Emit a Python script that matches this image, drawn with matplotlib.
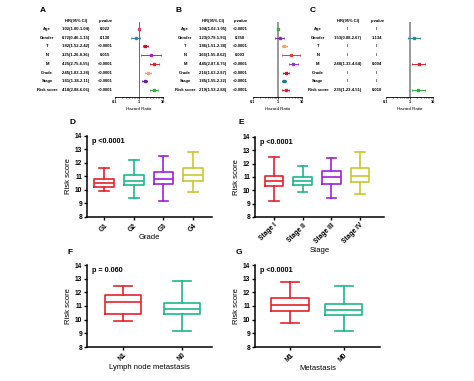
import numpy as np
import matplotlib
matplotlib.use('Agg')
import matplotlib.pyplot as plt
import matplotlib.transforms as mtrans

plt.rcParams['font.family'] = ['Liberation Sans', 'DejaVu Sans']
plt.rcParams['font.weight'] = 'bold'

# forest plot data
rows = ['Age', 'Gender', 'T', 'N', 'M', 'Grade', 'Stage', 'Risk score']

a_hr = [1.02, 0.72, 1.82, 3.25, 4.25, 2.45, 1.81, 4.18]
a_lo = [1.00, 0.46, 1.52, 1.26, 2.75, 1.83, 1.38, 2.88]
a_hi = [1.04, 1.15, 2.42, 8.36, 6.55, 3.28, 2.11, 6.06]
a_txt = ['1.02(1.00-1.04)', '0.72(0.46-1.15)', '1.82(1.52-2.42)', '3.25(1.26-8.36)',
         '4.25(2.75-6.55)', '2.45(1.83-3.28)', '1.81(1.38-2.11)', '4.18(2.88-6.06)']
a_p = ['0.022', '0.130', '<0.0001', '0.015', '<0.0001', '<0.0001', '<0.0001', '<0.0001']
a_col = ['#e0405a', '#3a7fbf', '#c0102a', '#b020d0', '#e02030', '#f0a070', '#6020a0', '#30b040']

b_hr = [1.04, 1.23, 1.86, 3.66, 4.45, 2.16, 1.85, 2.19]
b_lo = [1.02, 0.79, 1.51, 1.55, 2.87, 1.63, 1.55, 1.53]
b_hi = [1.05, 1.93, 2.38, 8.62, 6.75, 2.87, 2.22, 2.88]
b_txt = ['1.04(1.02-1.05)', '1.23(0.79-1.93)', '1.86(1.51-2.38)', '3.66(1.55-8.62)',
         '4.45(2.87-6.75)', '2.16(1.63-2.87)', '1.85(1.55-2.22)', '2.19(1.53-2.88)']
b_p = ['<0.0001', '0.358', '<0.0001', '0.003', '<0.0001', '<0.0001', '<0.0001', '<0.0001']
b_col = ['#30b040', '#8030c0', '#f0a060', '#e04040', '#9030e0', '#d01030', '#108080', '#e02030']

c_hr = [np.nan, 1.53, np.nan, np.nan, 2.48, np.nan, np.nan, 2.35]
c_lo = [np.nan, 0.88, np.nan, np.nan, 1.33, np.nan, np.nan, 1.23]
c_hi = [np.nan, 2.67, np.nan, np.nan, 4.64, np.nan, np.nan, 4.51]
c_txt = ['/', '1.53(0.88-2.67)', '/', '/', '2.48(1.33-4.64)', '/', '/', '2.35(1.23-4.51)']
c_p = ['/', '1.134', '/', '/', '0.004', '/', '/', '0.010']
c_col = ['k', '#2a8a9a', 'k', 'k', '#e02030', 'k', 'k', '#30b040']

# box plot data: whisker low, q1, median, q3, whisker high
grade_names = ['G1', 'G2', 'G3', 'G4']
grade_stats = [[9.9, 10.2, 10.5, 10.85, 11.6],
               [9.4, 10.35, 10.65, 11.1, 12.2],
               [9.2, 10.45, 10.85, 11.35, 12.5],
               [9.85, 10.65, 11.1, 11.65, 12.8]]
stage_names = ['Stage I', 'Stage II', 'Stage III', 'Stage IV']
stage_stats = [[9.2, 10.35, 10.7, 11.1, 12.5],
               [9.9, 10.4, 10.7, 11.0, 11.8],
               [9.4, 10.45, 11.0, 11.45, 12.45],
               [9.75, 10.6, 11.1, 11.7, 12.85]]
lymph_names = ['N1', 'N0']
lymph_stats = [[9.9, 10.45, 11.3, 11.8, 12.45],
               [9.2, 10.4, 10.75, 11.25, 12.8]]
meta_names = ['M1', 'M0']
meta_stats = [[9.75, 10.65, 11.05, 11.6, 12.75],
              [9.2, 10.35, 10.7, 11.15, 12.45]]

box_cols = ['#e8202a', '#1fb58a', '#a11fdc', '#c8c832']

W, H = 474, 381
fig = plt.figure(figsize=(W / 100, H / 100), dpi=100)


def px_axes(x0, y0, x1, y1):
    return fig.add_axes([x0 / W, 1 - y1 / H, (x1 - x0) / W, (y1 - y0) / H])


def forest(x0, x1, xlab, xhr, xp, hr, lo, hi, txt, pv, cols, vcol, vlw):
    ax = px_axes(x0, 22, x1, 97)
    ax.set_xscale('log')
    ax.set_xlim(0.1, 10)
    ax.set_ylim(7.8, -0.8)
    ax.axvline(1, color=vcol, lw=vlw, zorder=1)
    for i in range(len(rows)):
        if np.isnan(hr[i]):
            continue
        ax.errorbar(hr[i], i, xerr=[[hr[i] - lo[i]], [hi[i] - hr[i]]], fmt='s',
                    color=cols[i], ms=1.5, lw=0.7, capsize=1, capthick=0.6)
    for s in ['left', 'top', 'right']:
        ax.spines[s].set_visible(False)
    ax.spines['bottom'].set_linewidth(0.6)
    ax.set_yticks([])
    ax.set_xticks([0.1, 1, 10])
    ax.set_xticklabels(['0.1', '1', '10'], fontsize=2.8)
    ax.tick_params(axis='x', which='major', length=1.5, width=0.5, pad=1)
    ax.tick_params(axis='x', which='minor', length=1, width=0.4)
    ax.set_xlabel('Hazard Ratio', fontsize=3.2, labelpad=2)
    tr = mtrans.blended_transform_factory(fig.transFigure, ax.transData)
    ax.text(xhr / W, -0.9, 'HR(95% CI)', transform=tr, fontsize=3, ha='center', va='center')
    ax.text(xp / W, -0.9, 'p value', transform=tr, fontsize=3, ha='center', va='center', style='italic')
    for i, r in enumerate(rows):
        ax.text(xlab / W, i, r, transform=tr, fontsize=3, ha='center', va='center')
        ax.text(xhr / W, i, txt[i], transform=tr, fontsize=3, ha='center', va='center')
        ax.text(xp / W, i, pv[i], transform=tr, fontsize=3, ha='center', va='center')
    return ax


forest(115, 163, 47, 76, 105, a_hr, a_lo, a_hi, a_txt, a_p, a_col, '#555555', 0.6)
forest(253, 302, 185, 213, 240, b_hr, b_lo, b_hi, b_txt, b_p, b_col, '#888888', 1.2)
forest(386, 433, 318, 348, 377, c_hr, c_lo, c_hi, c_txt, c_p, c_col, '#888888', 1.2)


def boxpanel(x0, y0, x1, y1, names, stats, xlim, width, ptxt, xlabel):
    ax = px_axes(x0, y0, x1, y1)
    bs = []
    for n, s in zip(names, stats):
        bs.append({'label': n, 'whislo': s[0], 'q1': s[1], 'med': s[2], 'q3': s[3], 'whishi': s[4]})
    pos = np.arange(1, len(names) + 1)
    parts = ax.bxp(bs, positions=pos, widths=width, showfliers=False, patch_artist=False,
                   manage_ticks=False)
    for i in range(len(names)):
        c = box_cols[i]
        parts['boxes'][i].set(color=c, lw=1.2)
        parts['medians'][i].set(color=c, lw=1.2)
        for k in (2 * i, 2 * i + 1):
            parts['whiskers'][k].set(color=c, lw=1.2)
            parts['caps'][k].set(color=c, lw=1.2)
    ax.set_xlim(*xlim)
    ax.set_ylim(8, 14)
    ax.set_yticks(range(8, 15))
    ax.set_xticks(pos)
    ax.set_xticklabels(names, rotation=45, ha='right', rotation_mode='anchor', fontsize=4.8)
    ax.tick_params(axis='y', labelsize=4.8, length=2.5, width=1, pad=1)
    ax.tick_params(axis='x', length=2.5, width=1, pad=1)
    for s in ['top', 'right']:
        ax.spines[s].set_visible(False)
    for s in ['left', 'bottom']:
        ax.spines[s].set_linewidth(1.1)
    ax.set_ylabel('Risk score', fontsize=5.5, labelpad=2)
    ax.set_xlabel(xlabel, fontsize=5.5, labelpad=1)
    ax.text(0.04, 0.97, ptxt, transform=ax.transAxes, fontsize=5.2, va='top', ha='left')
    return ax


boxpanel(87, 136, 212, 217, grade_names, grade_stats, (0.43, 4.63), 0.67, 'p <0.0001', 'Grade')
boxpanel(255, 137, 384, 217, stage_names, stage_stats, (0.34, 4.84), 0.65, 'p <0.0001', 'Stage')
boxpanel(87, 265, 212, 347, lymph_names, lymph_stats, (0.39, 2.51), 0.61, 'p = 0.060', 'Lymph node metastasis')
boxpanel(255, 265, 380, 347, meta_names, meta_stats, (0.35, 2.67), 0.69, 'p <0.0001', 'Metastasis')

# panel letters
for letter, x, y in [('A', 43, 10), ('B', 178, 10), ('C', 313, 10), ('D', 72, 122),
                     ('E', 241, 122), ('F', 70, 252), ('G', 239, 252)]:
    fig.text(x / W, 1 - y / H, letter, fontsize=6, ha='center', va='center')

fig.savefig('out.png', dpi=100)
